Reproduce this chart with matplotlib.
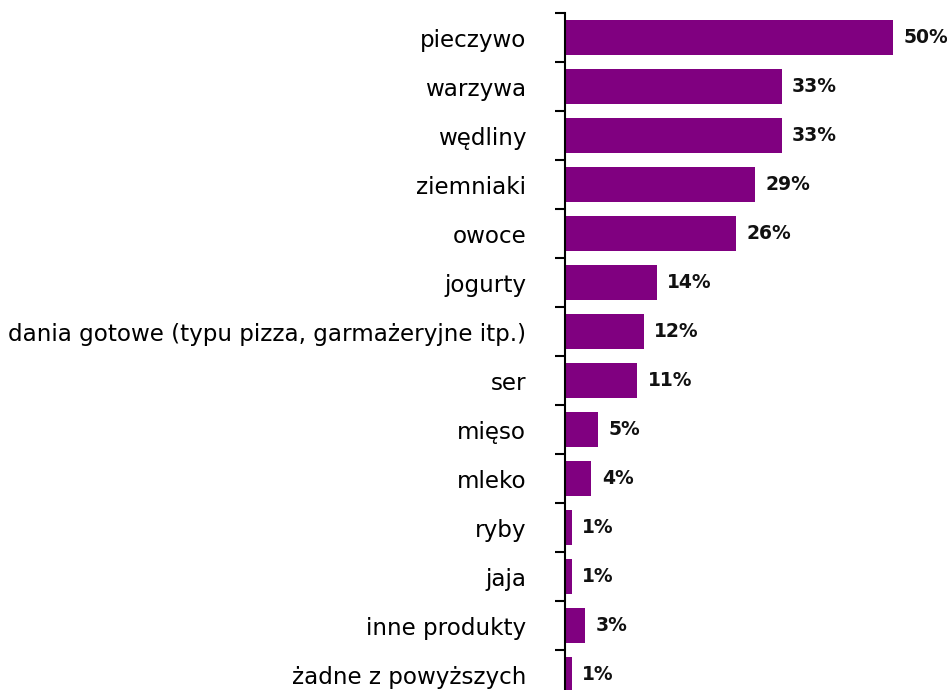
import numpy as np
import matplotlib.pyplot as plt
from matplotlib.ticker import FixedLocator

categories = [
    'pieczywo', 'warzywa', 'wędliny', 'ziemniaki', 'owoce', 'jogurty',
    'dania gotowe (typu pizza, garmażeryjne itp.)', 'ser', 'mięso', 'mleko',
    'ryby', 'jaja', 'inne produkty', 'żadne z powyższych'
]
values = [50, 33, 33, 29, 26, 14, 12, 11, 5, 4, 1, 1, 3, 1]

BAR_COLOR = '#800080'

fig = plt.figure(figsize=(9.47, 6.9), dpi=100)
# plot area runs past the bottom edge, like the cropped original
ax = fig.add_axes([565 / 947, (690 - 699) / 690, 361 / 947, 686 / 690])

y = np.arange(len(categories))
ax.barh(y, values, height=0.71, color=BAR_COLOR)

ax.set_xlim(0, 55)
ax.set_ylim(len(categories) - 0.5, -0.5)

for yi, v in zip(y, values):
    ax.text(v + 1.6, yi, f'{v}%', va='center', ha='left',
            fontsize=13.5, fontweight='bold', color='#111111')

ax.set_yticks(y)
ax.set_yticklabels(categories, fontsize=16.6)
ax.tick_params(axis='y', which='major', length=0, pad=28)
ax.yaxis.set_minor_locator(FixedLocator(np.arange(-0.5, len(categories), 1)))
ax.tick_params(axis='y', which='minor', length=7, width=1.5, direction='out')

ax.set_xticks([])
for side in ['top', 'right', 'bottom']:
    ax.spines[side].set_visible(False)
ax.spines['left'].set_linewidth(1.5)

fig.savefig('out.png', dpi=100)
